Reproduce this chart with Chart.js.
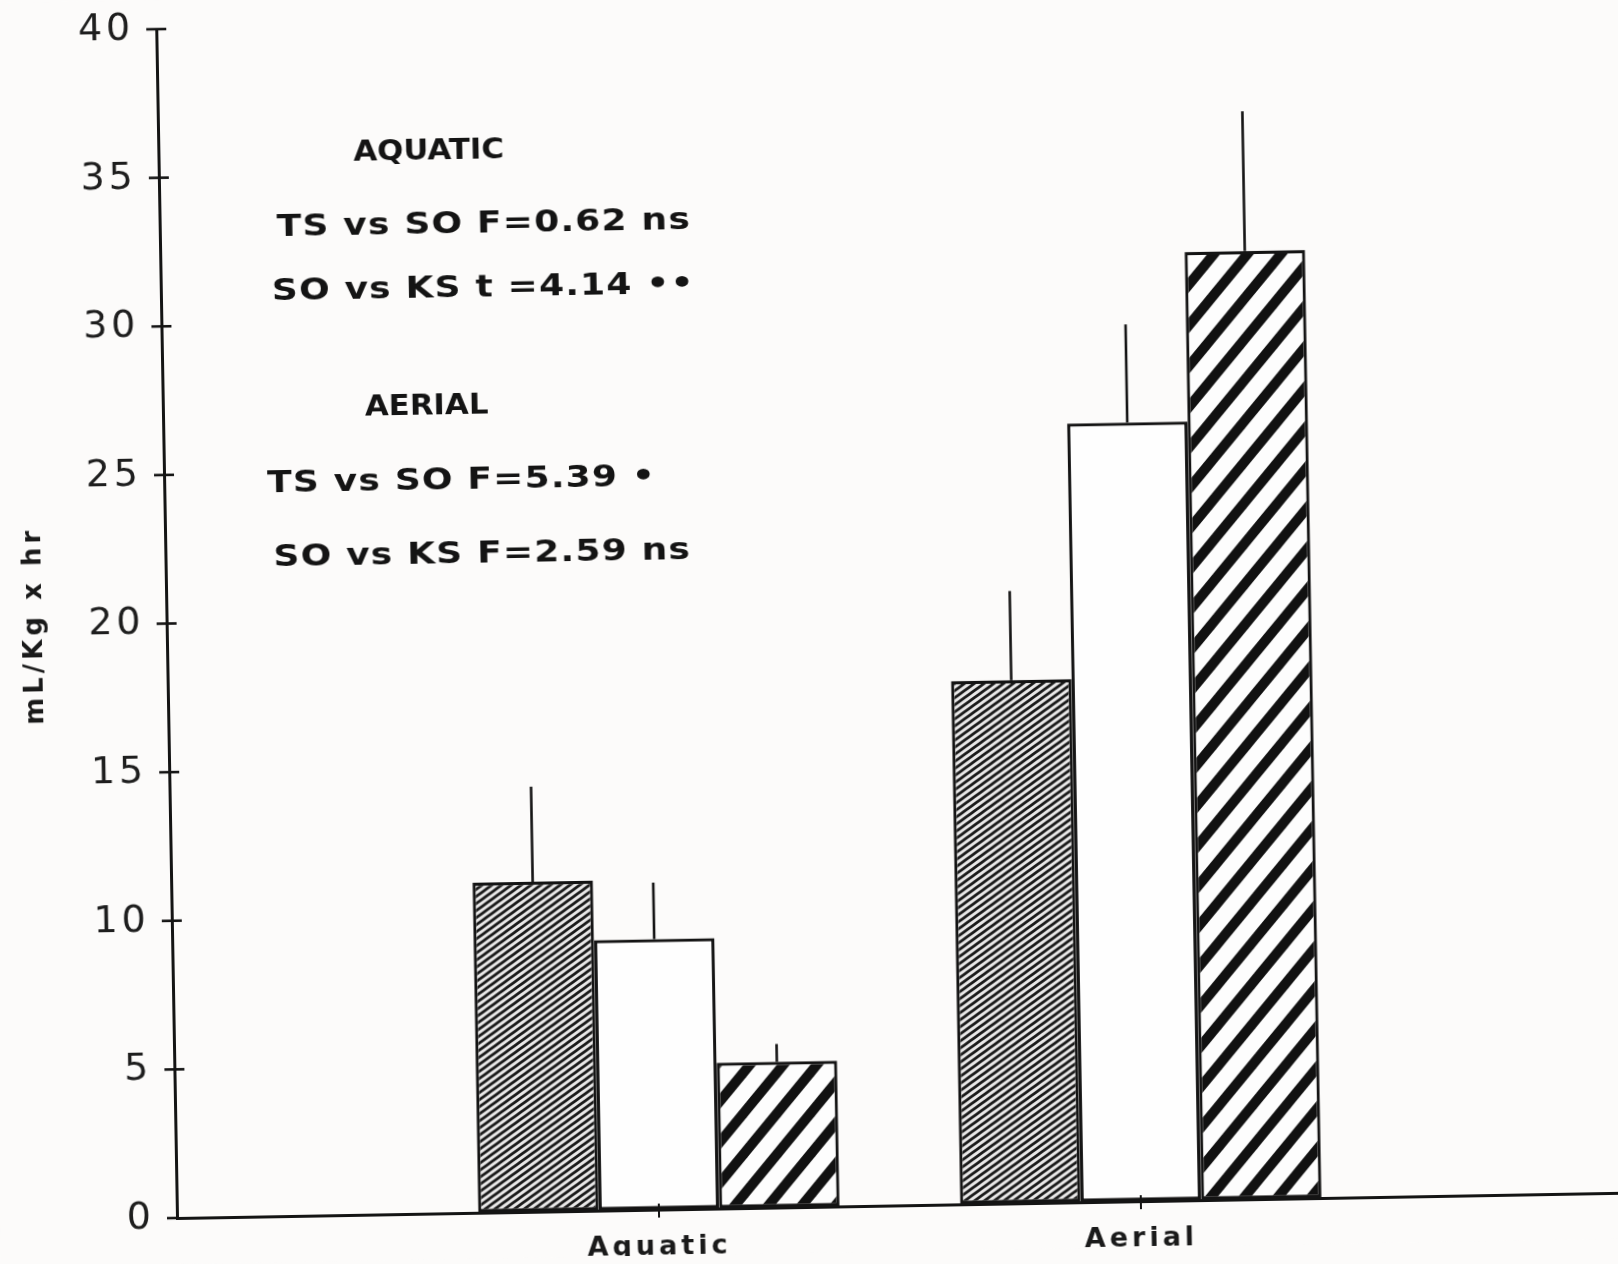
<!DOCTYPE html>
<html>
<head>
<meta charset="utf-8">
<title>Oxygen uptake, aquatic and aerial</title>
<script src="https://cdn.jsdelivr.net/npm/chart.js@4.4.1/dist/chart.umd.min.js"></script>
<style>
  html, body { margin: 0; padding: 0; background: #fcfbfa; overflow: hidden; }
  /* the printed figure sits slightly tilted on the page */
  #wrap { width: 1660px; height: 1264px; transform: rotate(-1deg); transform-origin: 177px 1218px; }
  canvas { display: block; }
</style>
</head>
<body>
<div id="wrap"><canvas id="chart" width="1660" height="1264"></canvas></div>
<script>
// ---- data -------------------------------------------------------------
const groups = ['Aquatic', 'Aerial'];
const seriesNames = ['TS', 'SO', 'KS'];
const tsMean = [11.1, 17.6];
const soMean = [9.1, 26.2];
const ksMean = [4.9, 31.9];
const tsErr = [3.2, 3.0];
const soErr = [1.9, 3.3];
const ksErr = [0.6, 4.7];
const yTicks = [0, 5, 10, 15, 20, 25, 30, 35, 40];
const yTitle = 'mL/Kg x hr';
const statLines = [
  'AQUATIC',
  'TS vs SO F=0.62 ns',
  'SO vs KS t =4.14 \u2022\u2022',
  'AERIAL',
  'TS vs SO F=5.39 \u2022',
  'SO vs KS F=2.59 ns'
];

// ---- layout / styling ---------------------------------------------------
const BG = '#fcfbfa';
const INK = '#141414';
const FONT = '"DejaVu Sans", "Liberation Sans", sans-serif';
const PLOT_TOP = 29;      // pixel row of the 40 tick
const PLOT_RIGHT = 1623;  // right end of the category axis
// left offset from the y axis (px) and vertical anchor (axis units) of each stats line
const statPlacement = [
  { dx: 195, at: 35.72, heading: true },
  { dx: 117, at: 33.24 },
  { dx: 111, at: 31.08 },
  { dx: 202, at: 27.13, heading: true },
  { dx: 103, at: 24.63 },
  { dx: 108, at: 22.12 }
];

// category slots: an empty slot either side keeps the two groups inside the axis
const labels = ['', ...groups, ''];
const pad = arr => [null, ...arr, null];

function hatch(w, h, lineW, bg, fg) {
  const c = document.createElement('canvas');
  c.width = w; c.height = h;
  const g = c.getContext('2d');
  g.fillStyle = bg; g.fillRect(0, 0, w, h);
  g.strokeStyle = fg; g.lineWidth = lineW; g.lineCap = 'butt';
  for (const k of [-1, 0, 1]) {
    g.beginPath();
    g.moveTo(k * w - w, 2 * h);
    g.lineTo(k * w + 2 * w, -h);
    g.stroke();
  }
  return g.createPattern(c, 'repeat');
}

const fineHatch = hatch(10, 7, 2.7, '#e9e8e8', '#1a1a1a');
const wideHatch = hatch(34, 40, 10, '#fdfdfd', '#111111');

const means = [tsMean, soMean, ksMean];
const errs = [tsErr, soErr, ksErr];
const fills = [fineHatch, '#fefefe', wideHatch];

const datasets = seriesNames.map((name, i) => ({
  label: name,
  data: pad(means[i]),
  errorValues: pad(errs[i]),
  backgroundColor: fills[i],
  borderColor: INK,
  borderWidth: 3.2,
  borderSkipped: false,
  categoryPercentage: 0.75,
  barPercentage: 1.0
}));

function wideText(ctx, txt, x, y, sx) {
  ctx.save();
  ctx.translate(x, y);
  ctx.scale(sx, 1);
  ctx.fillText(txt, 0, 0);
  ctx.restore();
}

const decor = {
  id: 'decor',
  beforeDraw(chart) {
    const ctx = chart.ctx;
    ctx.save();
    ctx.fillStyle = BG;
    ctx.fillRect(0, 0, chart.width, chart.height);
    ctx.restore();
    ctx.letterSpacing = '4px';
  },
  afterDatasetsDraw(chart) {
    const ctx = chart.ctx;
    const y = chart.scales.y;
    const x = chart.scales.x;
    const area = chart.chartArea;
    ctx.save();
    ctx.strokeStyle = INK;
    ctx.lineCap = 'butt';

    // one-sided error bars
    ctx.lineWidth = 2.6;
    chart.data.datasets.forEach((ds, i) => {
      const meta = chart.getDatasetMeta(i);
      meta.data.forEach((bar, j) => {
        const v = ds.data[j];
        const e = ds.errorValues[j];
        if (v == null || e == null) return;
        ctx.beginPath();
        ctx.moveTo(bar.x, y.getPixelForValue(v));
        ctx.lineTo(bar.x, y.getPixelForValue(v + e));
        ctx.stroke();
      });
    });

    // y ticks crossing the axis
    ctx.lineWidth = 2.6;
    yTicks.forEach(t => {
      const py = y.getPixelForValue(t);
      ctx.beginPath();
      ctx.moveTo(area.left - 10, py);
      ctx.lineTo(t === 0 ? area.left : area.left + 10, py);
      ctx.stroke();
    });

    // category ticks
    ctx.lineWidth = 2;
    groups.forEach(g => {
      const px = x.getPixelForValue(labels.indexOf(g));
      ctx.beginPath();
      ctx.moveTo(px, area.bottom - 6);
      ctx.lineTo(px, area.bottom + 8);
      ctx.stroke();
    });

    // statistics block
    ctx.fillStyle = INK;
    ctx.textAlign = 'left';
    ctx.textBaseline = 'middle';
    statLines.forEach((txt, k) => {
      const p = statPlacement[k];
      if (p.heading) {
        ctx.font = 'bold 28px ' + FONT;
        ctx.letterSpacing = '0px';
        wideText(ctx, txt, area.left + p.dx, y.getPixelForValue(p.at), 1.1);
      } else {
        ctx.font = 'bold 30px ' + FONT;
        ctx.letterSpacing = '1px';
        wideText(ctx, txt, area.left + p.dx, y.getPixelForValue(p.at), 1.2);
      }
    });
    ctx.restore();
  }
};

const chart = new Chart(document.getElementById('chart'), {
  type: 'bar',
  data: { labels, datasets },
  options: {
    responsive: false,
    animation: false,
    devicePixelRatio: 1,
    layout: { padding: { top: PLOT_TOP, right: 37, bottom: 0, left: 0 } },
    plugins: { legend: { display: false }, tooltip: { enabled: false } },
    scales: {
      x: {
        type: 'category',
        offset: false,
        grid: { display: true, drawOnChartArea: false, drawTicks: false, color: 'rgba(0,0,0,0)' },
        border: { display: true, color: INK, width: 3 },
        ticks: {
          autoSkip: false, maxRotation: 0, padding: 0, color: '#1a1a1a',
          // tall line box puts the label centre ~37px under the axis
          font: { family: FONT, size: 27, weight: 'bold', lineHeight: 2.8 }
        },
        afterFit(s) { s.height = 46; }
      },
      y: {
        min: 0, max: 40,
        afterBuildTicks(s) { s.ticks = yTicks.map(v => ({ value: v })); },
        grid: { display: true, drawOnChartArea: false, drawTicks: false, color: 'rgba(0,0,0,0)' },
        border: { display: true, color: INK, width: 3 },
        ticks: { padding: 22, color: '#1e1e1e', font: { family: FONT, size: 38, lineHeight: 0.1 } },
        title: {
          display: true, text: yTitle, color: '#1a1a1a',
          font: { family: FONT, size: 26, weight: 'bold' },
          padding: { top: 30, bottom: 0 }
        },
        afterFit(s) { s.width = 177; }
      }
    }
  },
  plugins: [decor]
});

// pin the plot area: 40 at PLOT_TOP, the category axis ending at PLOT_RIGHT
const lp = chart.options.layout.padding;
const dTop = PLOT_TOP - chart.chartArea.top;
const dRight = chart.chartArea.right - PLOT_RIGHT;
if (dTop || dRight) {
  lp.top += dTop;
  lp.right += dRight;
  chart.update();
}
</script>
</body>
</html>
